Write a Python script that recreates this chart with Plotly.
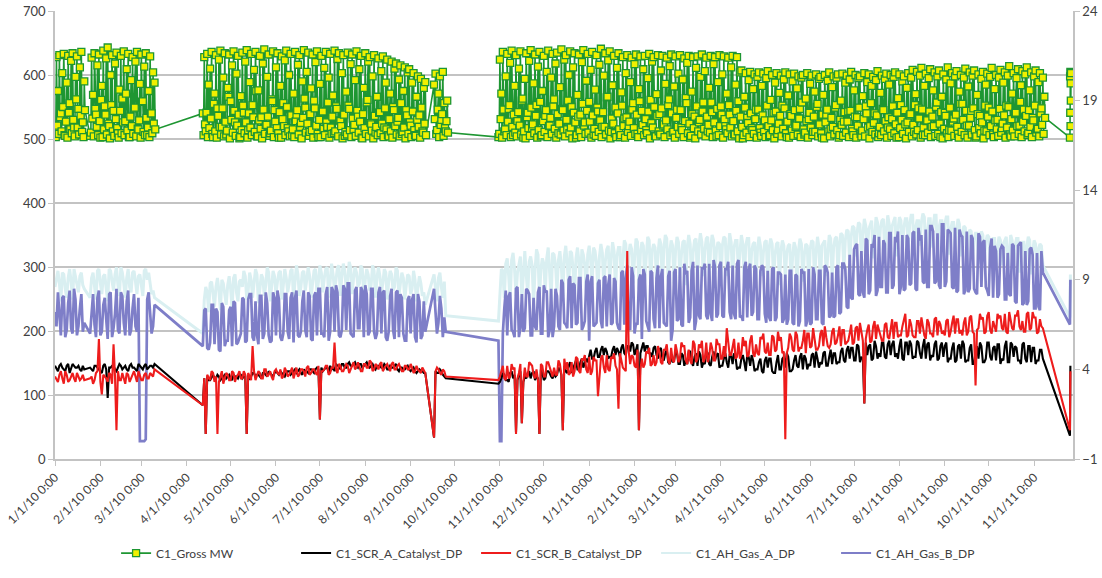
import plotly.graph_objects as go
from datetime import datetime, timedelta

BASE = datetime(2010, 1, 1)

# ---------------- x-axis ticks ----------------
TICK_DATES = ["2010-01-01", "2010-02-01", "2010-03-01", "2010-04-01", "2010-05-01", "2010-06-01",
              "2010-07-01", "2010-08-01", "2010-09-01", "2010-10-01", "2010-11-01", "2010-12-01",
              "2011-01-01", "2011-02-01", "2011-03-01", "2011-04-01", "2011-05-01", "2011-06-01",
              "2011-07-01", "2011-08-01", "2011-09-01", "2011-10-01", "2011-11-01"]
TICK_LABELS = ["1/1/10 0:00", "2/1/10 0:00", "3/1/10 0:00", "4/1/10 0:00", "5/1/10 0:00", "6/1/10 0:00",
               "7/1/10 0:00", "8/1/10 0:00", "9/1/10 0:00", "10/1/10 0:00", "11/1/10 0:00", "12/1/10 0:00",
               "1/1/11 0:00", "2/1/11 0:00", "3/1/11 0:00", "4/1/11 0:00", "5/1/11 0:00", "6/1/11 0:00",
               "7/1/11 0:00", "8/1/11 0:00", "9/1/11 0:00", "10/1/11 0:00", "11/1/11 0:00"]

# ---------------- data segments (start day offset from 1/1/10, sampling step in days) ----------------
EVEN_SEGMENTS = [("S1A", 0, 2), ("S1B", 24, 2), ("S2", 101, 2), ("S3", 259, 2), ("S4", 303, 2), ("END", 693.5, 0.3)]
ODD_SEGMENTS = [("S1A", 1, 2), ("S1B", 25, 2), ("S2", 102, 2), ("S3", 260, 2), ("S4", 304, 2)]
MW_DAY_SEGMENTS = [("S1A", 0, 1), ("S1B", 24, 1), ("S2", 101, 1), ("S3", 259, 1), ("S4", 303, 1), ("END", 693.5, 0.1)]
MW_NIGHT_SEGMENTS = [("S1A", 0.5, 1), ("S1B", 24.5, 1), ("S2", 101.5, 1), ("S3", 259.5, 1), ("S4", 303.5, 1)]

# ---------------- C1_Gross MW (left axis): daytime samples ----------------
MW_S1A = [512, 628, 575, 631, 540, 603, 633, 505, 588, 630, 556, 622, 634, 518, 597, 629, 547, 612, 636, 526, 590]
MW_S1B = [505, 627, 569, 634, 538, 615, 632, 502, 583, 638, 551, 626, 643, 520, 600, 631, 544, 618, 635, 509,
          577, 630, 563, 637, 528, 609, 633, 503, 592, 628, 548, 621, 636, 515, 586, 632, 559, 613, 634, 506,
          575, 629, 540, 604, 588]
MW_S2 = [540, 628, 512, 633, 585, 610, 636, 503, 571, 631, 548, 624, 638, 519, 596, 634, 507, 580, 632, 559,
         615, 637, 526, 602, 630, 501, 567, 635, 541, 621, 639, 514, 589, 633, 553, 608, 636, 504, 576, 630,
         534, 618, 640, 522, 597, 632, 509, 562, 637, 545, 612, 634, 502, 583, 629, 556, 623, 638, 517, 600,
         633, 506, 571, 636, 538, 616, 631, 525, 590, 639, 549, 605, 635, 511, 579, 632, 560, 620, 637, 503,
         586, 630, 543, 611, 636, 519, 596, 633, 508, 568, 638, 551, 625, 634, 528, 603, 631, 505, 574, 635,
         547, 617, 632, 515, 592, 637, 535, 609, 630, 501, 580, 634, 557, 621, 628, 523, 598, 631, 510, 566,
         626, 542, 606, 629, 518, 588, 624, 504, 571, 621, 550, 610, 618, 527, 593, 615, 508, 575, 612, 545,
         604, 609, 521, 588, 603, 506, 566, 598, 537, 594, 512, 580, 589]
MW_S3 = [585, 602, 514, 571, 598, 530, 605, 556, 512, 560]
MW_S4 = [503, 624, 571, 636, 512, 598, 633, 547, 619, 638, 506, 583, 631, 528, 610, 637, 560, 502, 594, 634,
         541, 622, 639, 517, 587, 632, 553, 613, 636, 504, 575, 630, 536, 605, 638, 521, 596, 633, 562, 618,
         635, 509, 581, 640, 545, 624, 631, 515, 600, 637, 550, 612, 634, 502, 569, 632, 538, 620, 639, 526,
         591, 633, 558, 608, 636, 507, 577, 631, 543, 616, 641, 519, 599, 634, 565, 623, 637, 511, 584, 630,
         549, 611, 634, 503, 573, 628, 532, 603, 631, 520, 589, 627, 556, 617, 632, 508, 578, 629, 544, 609,
         630, 514, 595, 633, 561, 621, 628, 505, 570, 631, 539, 607, 630, 523, 586, 627, 553, 614, 632, 510,
         582, 629, 546, 602, 631, 518, 593, 626, 564, 619, 630, 502, 574, 628, 535, 611, 629, 526, 597, 632,
         557, 606, 627, 512, 580, 630, 542, 617, 628, 504, 589, 631, 551, 601, 629, 520, 571, 627, 538, 612,
         630, 508, 585, 628, 559, 604, 607, 501, 566, 603, 533, 592, 605, 517, 578, 601, 546, 597, 604, 510,
         583, 602, 529, 595, 606, 505, 561, 600, 541, 588, 603, 514, 572, 599, 552, 593, 604, 503, 568, 601,
         536, 590, 602, 519, 579, 598, 547, 596, 600, 507, 563, 603, 531, 586, 599, 511, 574, 601, 555, 594,
         597, 502, 569, 600, 538, 591, 604, 516, 581, 598, 549, 596, 601, 506, 560, 602, 527, 588, 599, 543,
         593, 605, 512, 576, 600, 534, 595, 598, 504, 567, 603, 551, 589, 601, 520, 583, 597, 540, 592, 606,
         509, 572, 599, 545, 594, 602, 518, 585, 600, 531, 597, 604, 502, 564, 601, 553, 590, 598, 523, 580,
         603, 537, 596, 608, 511, 570, 605, 548, 599, 611, 506, 583, 602, 529, 595, 609, 519, 576, 604, 550,
         598, 607, 503, 566, 601, 541, 593, 612, 514, 587, 603, 532, 598, 606, 508, 574, 600, 555, 596, 610,
         521, 582, 604, 544, 599, 607, 502, 569, 601, 536, 594, 605, 513, 585, 602, 549, 597, 611, 507, 578,
         600, 530, 596, 608, 517, 588, 604, 552, 599, 614, 504, 571, 603, 539, 595, 609, 521, 584, 606, 546,
         601, 612, 509, 576, 604, 533, 598, 607, 515, 589, 603, 548, 596, 566]
MW_END = [502, 598, 541, 605, 520, 587, 560, 603]

# ---------------- C1_Gross MW (left axis): overnight samples ----------------
MWN_S1A = [503, 521, 508, 534, 512, 550, 506, 527, 502, 541, 515, 509, 530, 504, 562, 518, 507, 536, 511, 503, 545]
MWN_S1B = [510, 532, 504, 547, 519, 506, 528, 561, 503, 515, 538, 507, 524, 501, 553, 512, 505, 531, 517, 502,
           544, 509, 526, 506, 571, 513, 503, 535, 520, 508, 549, 504, 516, 529, 502, 558, 511, 506, 533, 518,
           503, 540, 509, 524, 515]
MWN_S2 = [506, 523, 541, 503, 517, 532, 508, 555, 512, 502, 536, 519, 507, 548, 504, 527, 513, 566, 501, 530,
          510, 544, 505, 521, 538, 503, 514, 552, 509, 526, 502, 540, 518, 506, 534, 511, 575, 504, 529, 516,
          501, 546, 508, 522, 535, 505, 513, 559, 503, 527, 517, 509, 542, 502, 531, 520, 506, 550, 512, 504,
          537, 515, 503, 528, 545, 507, 519, 501, 533, 563, 510, 524, 505, 539, 514, 502, 548, 521, 508, 530,
          503, 543, 516, 506, 526, 557, 502, 518, 535, 509, 512, 547, 504, 529, 520, 501, 538, 511, 507, 552,
          514, 503, 532, 522, 505, 544, 510, 527, 502, 539, 517, 508, 561, 504, 525, 513, 501, 536, 519, 506,
          541, 509, 524, 503, 548, 515, 506, 531, 512, 502, 545, 520, 507, 533, 504, 556, 511, 518, 501, 537,
          508, 526, 503, 543, 514, 505, 530, 519, 502, 549, 510, 524, 506]
MWN_S3 = [531, 508, 546, 503, 522, 539, 505, 517, 528, 510]
MWN_S4 = [508, 531, 502, 546, 515, 506, 527, 553, 503, 519, 538, 510, 504, 542, 521, 507, 563, 512, 501, 534,
          517, 505, 549, 523, 509, 536, 502, 514, 558, 506, 528, 511, 545, 503, 520, 533, 508, 551, 516, 502,
          539, 524, 507, 547, 513, 504, 530, 560, 509, 518, 501, 541, 526, 506, 535, 512, 503, 555, 521, 508,
          544, 510, 527, 502, 537, 516, 505, 549, 511, 529, 503, 542, 519, 507, 566, 513, 501, 532, 524, 509,
          503, 540, 515, 506, 552, 520, 502, 534, 511, 527, 505, 546, 517, 508, 538, 503, 559, 514, 522, 506,
          531, 509, 543, 501, 525, 518, 550, 504, 536, 512, 507, 548, 521, 503, 529, 515, 562, 506, 540, 511,
          502, 533, 519, 508, 545, 514, 503, 528, 556, 509, 524, 505, 539, 517, 501, 551, 512, 530, 507, 543,
          516, 504, 535, 522, 510, 557, 503, 526, 513, 547, 506, 520, 538, 502, 531, 515, 509, 553, 518, 504,
          528, 507, 544, 512, 501, 535, 519, 506, 549, 510, 525, 503, 540, 514, 508, 531, 502, 546, 517, 505,
          537, 511, 503, 552, 520, 506, 529, 514, 501, 543, 508, 524, 536, 504, 516, 548, 509, 527, 502, 539,
          513, 505, 545, 521, 507, 532, 503, 557, 515, 510, 528, 502, 541, 518, 506, 535, 511, 550, 504, 523,
          509, 538, 501, 526, 546, 512, 504, 533, 519, 507, 553, 514, 502, 530, 522, 505, 542, 510, 527, 503,
          544, 516, 506, 535, 502, 521, 549, 508, 513, 531, 504, 540, 518, 501, 556, 511, 525, 507, 537, 503,
          519, 506, 547, 512, 528, 502, 534, 515, 505, 551, 509, 523, 541, 503, 517, 530, 508, 545, 501, 526,
          511, 539, 504, 522, 553, 507, 514, 532, 502, 546, 518, 506, 528, 510, 543, 503, 535, 520, 505, 557,
          508, 524, 542, 501, 516, 536, 509, 503, 549, 513, 527, 505, 538, 519, 502, 555, 511, 530, 506, 544,
          502, 521, 533, 507, 548, 514, 504, 539, 517, 509, 526, 501, 552, 512, 535, 506, 520, 543, 503, 529,
          515, 505, 547, 510, 524, 537, 502, 518, 550, 507, 531, 513, 504, 541, 520, 508, 558, 503, 527, 512,
          536, 506, 545, 519, 503, 529, 552, 510, 516, 504, 540, 522, 508, 533]

# ---------------- C1_SCR_A_Catalyst_DP (right axis) ----------------
SCR_A_S1A = [4.2, 3.9, 4.3, 4.0, 4.2, 3.8, 4.3, 4.1, 4.2, 3.9, 4.0]
SCR_A_S1B = [4.1, 3.9, 4.2, 4.0, 3.8, 4.3, 2.4, 4.1, 4.2, 3.9, 4.3, 4.0, 4.2, 3.9, 4.3, 4.1, 3.9, 4.2, 4.0, 4.3,
             4.1, 4.2, 4.3]
SCR_A_S2 = [2.0, 0.4, 3.4, 3.6, 3.5, 3.7, 3.4, 3.6, 3.5, 3.7, 3.4, 3.6, 3.5, 3.7, 3.6, 0.4, 3.5, 3.8, 3.6, 3.7,
            3.5, 3.8, 3.6, 3.8, 3.6, 3.9, 3.7, 3.8, 3.6, 3.9, 3.7, 3.9, 3.8, 4.0, 3.7, 3.9, 3.8, 4.0, 3.8, 4.1,
            1.2, 3.9, 4.1, 3.8, 4.0, 3.9, 4.2, 4.0, 4.3, 4.1, 4.4, 4.2, 4.4, 4.1, 4.3, 4.2, 4.4, 4.1, 4.3, 4.0,
            4.2, 4.1, 4.3, 4.0, 4.2, 4.1, 4.3, 3.9, 4.1, 4.0, 4.2, 3.9, 4.1, 3.8, 4.0, 3.9, 3.8]
SCR_A_S3 = [0.2, 3.8, 4.0, 3.7, 3.5]
SCR_A_S4 = [3.2, 3.5, 3.7, 3.4, 3.8, 3.5, 0.5, 3.7, 1.0, 3.6, 3.8, 3.5, 3.9, 3.6, 0.4, 3.8, 3.5, 3.9, 3.6, 3.8,
            3.7, 4.0, 0.6, 3.9, 4.2, 3.8, 4.3, 4.0, 4.4, 4.1, 4.6, 4.8, 4.6, 5.0, 4.7, 5.1, 4.8, 5.0, 4.7, 5.1,
            4.8, 5.0, 5.2, 4.9, 5.3, 5.0, 5.4, 5.1, 0.6, 5.2, 5.0, 5.3, 4.9, 5.2, 4.8, 5.1, 4.6, 4.9, 4.4, 4.8,
            4.5, 4.9, 4.3, 4.8, 4.5, 5.0, 4.4, 4.7, 4.2, 4.8, 4.4, 4.9, 4.3, 4.7, 4.5, 4.9, 4.2, 4.6, 4.4, 4.8,
            4.3, 4.7, 4.1, 4.6, 4.4, 4.8, 4.2, 4.5, 4.0, 4.4, 3.9, 4.5, 4.1, 4.6, 3.8, 4.4, 4.0, 4.6, 4.1, 4.7,
            3.9, 4.5, 4.2, 4.7, 4.0, 4.6, 4.3, 4.8, 4.1, 4.6, 4.4, 4.9, 4.2, 4.7, 4.3, 4.9, 4.4, 5.0, 4.5, 5.1,
            4.6, 5.2, 4.5, 5.3, 4.7, 2.1, 4.8, 5.4, 4.6, 5.3, 4.9, 5.5, 4.7, 5.4, 4.8, 5.6, 4.9, 5.3, 4.6, 5.5,
            4.8, 5.4, 4.7, 5.6, 4.9, 5.3, 4.6, 5.5, 4.8, 5.4, 4.5, 5.3, 4.7, 5.5, 4.6, 5.2, 4.4, 5.3, 4.6, 5.4,
            4.5, 5.2, 4.3, 5.0, 4.6, 5.3, 4.4, 5.5, 4.7, 5.2, 4.5, 5.4, 4.6, 5.3, 4.4, 5.5, 4.7, 5.2, 4.5, 5.4,
            4.6, 5.3, 4.4, 5.2, 4.5, 5.1, 4.6]
SCR_A_END = [0.3, 4.2]
SCR_A_O_S1A = [4.0, 4.2, 4.1, 3.9, 4.3, 4.0, 4.2, 4.1, 4.0, 4.2]
SCR_A_O_S1B = [4.0, 4.2, 4.1, 3.9, 4.2, 4.0, 4.1, 4.2, 4.0, 4.1, 4.2, 4.1, 4.0, 4.2, 4.1, 4.0, 4.3, 4.1, 4.2, 4.0,
               4.2, 4.1]
SCR_A_O_S2 = [3.5, 3.6, 3.4, 3.7, 3.5, 3.6, 3.5, 3.7, 3.6, 3.5, 3.7, 3.6, 3.7, 3.5, 3.6, 3.7, 3.6, 3.8, 3.7, 3.6,
              3.8, 3.7, 3.9, 3.7, 3.8, 3.8, 3.9, 3.7, 3.8, 3.9, 3.8, 4.0, 3.9, 3.8, 4.0, 3.9, 4.0, 3.9, 4.0, 4.0,
              4.1, 4.0, 4.1, 4.2, 4.1, 4.3, 4.2, 4.3, 4.1, 4.3, 4.2, 4.3, 4.2, 4.3, 4.1, 4.3, 4.2, 4.2, 4.1, 4.2,
              4.2, 4.1, 4.2, 4.0, 4.1, 4.2, 4.0, 4.1, 4.0, 4.1, 4.0, 4.0, 3.9, 3.9, 3.9, 3.8]
SCR_A_O_S3 = [3.9, 3.8, 3.9, 3.6]
SCR_A_O_S4 = [3.3, 3.8, 3.4, 3.3, 3.9, 3.7, 3.4, 3.9, 3.3, 3.5, 3.9, 3.8, 3.4, 3.5, 4.0, 3.4, 3.9, 3.8, 3.5, 3.6,
              4.1, 3.7, 4.2, 3.8, 4.4, 4.0, 4.5, 4.0, 4.6, 4.3, 4.4, 5.1, 4.6, 5.2, 4.7, 5.3, 5.2, 4.6, 4.7, 5.3,
              5.2, 4.7, 5.4, 4.8, 5.3, 5.5, 4.8, 5.4, 4.9, 5.5, 5.3, 4.9, 4.7, 5.3, 4.6, 5.2, 4.5, 5.1, 4.3, 4.4,
              5.0, 4.3, 4.9, 4.2, 4.3, 5.0, 4.2, 4.9, 5.0, 4.1, 4.3, 4.9, 4.2, 5.0, 4.8, 4.1, 4.2, 4.9, 4.1, 4.8,
              4.9, 4.0, 4.1, 4.8, 3.9, 4.7, 4.8, 3.9, 4.0, 4.6, 3.8, 4.7, 4.6, 3.9, 3.8, 4.8, 4.0, 4.7, 4.9, 3.9,
              4.0, 4.8, 4.1, 4.9, 4.8, 4.0, 4.2, 4.9, 5.0, 4.1, 4.3, 5.0, 4.2, 5.1, 4.9, 4.3, 4.4, 5.2, 4.4, 5.3,
              5.2, 4.5, 5.4, 4.4, 4.6, 5.5, 5.3, 4.5, 5.6, 4.6, 4.7, 5.5, 4.6, 5.6, 5.4, 4.7, 4.6, 5.7, 4.5, 5.5,
              5.6, 4.6, 4.7, 5.5, 4.6, 5.7, 5.4, 4.5, 4.7, 5.6, 4.6, 5.5, 5.3, 4.4, 4.6, 5.5, 4.5, 5.4, 5.6, 4.4,
              4.5, 5.4, 4.3, 5.3, 5.5, 4.4, 4.6, 5.5, 4.5, 5.3, 5.4, 4.3, 4.5, 5.6, 4.4, 5.4, 5.3, 4.5, 4.3, 5.5,
              4.4, 5.3, 5.2, 4.3, 4.5, 5.1]

# ---------------- C1_SCR_B_Catalyst_DP (right axis) ----------------
SCR_B_S1A = [3.6, 3.3, 3.9, 3.2, 3.7, 3.4, 3.8, 3.3, 3.6, 3.5, 3.4]
SCR_B_S1B = [3.5, 3.2, 3.8, 5.7, 2.6, 3.6, 3.3, 3.7, 5.4, 0.6, 3.4, 3.8, 3.2, 3.7, 3.5, 3.9, 3.3, 3.6, 3.4, 3.8,
             3.5, 3.7, 4.0]
SCR_B_S2 = [2.0, 0.4, 3.5, 3.9, 3.3, 0.4, 3.6, 3.2, 3.8, 3.4, 3.9, 3.3, 3.7, 3.5, 3.9, 0.4, 3.6, 5.3, 3.4, 3.9,
            3.5, 4.0, 3.6, 3.9, 3.4, 4.0, 3.7, 3.5, 4.1, 3.6, 3.9, 3.5, 4.1, 3.7, 4.0, 3.6, 4.2, 3.8, 4.0, 3.7,
            1.2, 3.9, 4.2, 3.7, 4.1, 5.5, 3.8, 4.2, 3.9, 4.3, 3.8, 4.2, 4.0, 4.4, 3.9, 4.3, 4.1, 4.5, 3.9, 4.3,
            4.0, 4.4, 4.1, 4.3, 3.9, 4.4, 4.0, 4.3, 3.9, 4.2, 4.0, 4.3, 3.8, 4.2, 3.9, 4.1, 3.8]
SCR_B_S3 = [0.2, 4.1, 3.8, 4.0, 3.6]
SCR_B_S4 = [3.4, 3.9, 3.5, 4.2, 3.6, 4.0, 0.4, 3.8, 1.0, 4.1, 3.6, 4.3, 3.7, 4.0, 0.4, 4.2, 3.6, 4.4, 3.8, 4.1,
            3.7, 4.3, 0.6, 4.0, 3.7, 4.4, 3.9, 4.6, 3.8, 4.5, 4.0, 4.7, 3.9, 4.5, 2.5, 4.6, 4.1, 4.8, 3.9, 4.6,
            4.2, 1.8, 4.5, 4.0, 10.6, 4.3, 4.7, 4.1, 0.6, 4.6, 4.3, 4.9, 4.2, 4.8, 4.4, 5.0, 4.3, 5.1, 4.5, 5.2,
            4.4, 5.0, 4.6, 5.3, 4.5, 5.1, 4.3, 5.4, 4.6, 5.2, 4.4, 5.5, 4.7, 5.2, 4.5, 5.4, 4.6, 5.3, 6.3, 4.8,
            5.4, 4.6, 5.5, 4.9, 5.3, 4.7, 5.6, 4.9, 5.4, 4.8, 5.7, 5.0, 5.5, 4.8, 5.8, 5.1, 5.6, 4.9, 0.1, 5.2,
            5.8, 5.0, 5.9, 5.2, 5.6, 4.9, 6.0, 5.3, 5.7, 5.1, 6.0, 5.3, 5.8, 5.2, 6.1, 5.4, 5.9, 5.3, 6.2, 5.5,
            6.0, 5.4, 6.3, 5.6, 6.1, 2.1, 6.2, 5.5, 6.4, 5.7, 6.2, 5.6, 6.5, 5.8, 6.3, 5.7, 6.6, 5.9, 6.4, 7.1,
            5.9, 6.5, 5.8, 6.7, 6.0, 6.4, 5.7, 6.6, 6.0, 6.8, 5.9, 6.5, 6.1, 6.7, 5.8, 6.6, 6.0, 6.8, 6.2, 6.6,
            5.9, 6.9, 6.1, 3.1, 6.3, 6.8, 6.0, 7.0, 6.2, 6.7, 6.1, 6.9, 6.3, 7.1, 6.0, 6.8, 6.2, 7.0, 6.4, 6.7,
            6.1, 7.2, 6.3, 6.9, 6.0, 6.8, 6.3]
SCR_B_END = [0.6, 3.9]
SCR_B_O_S1A = [3.4, 3.7, 3.5, 3.9, 3.3, 3.6, 3.5, 3.8, 3.4, 3.7]
SCR_B_O_S1B = [3.6, 3.4, 3.9, 3.3, 3.7, 3.5, 3.8, 3.2, 3.6, 3.9, 3.4, 3.5, 3.8, 3.3, 3.7, 3.6, 3.9, 3.4, 3.7, 3.5,
               3.8, 3.6]
SCR_B_O_S2 = [3.5, 3.7, 3.4, 3.8, 3.6, 3.3, 3.9, 3.5, 3.7, 3.4, 3.8, 3.6, 3.9, 3.5, 3.7, 3.8, 3.4, 3.9, 3.6, 3.8,
              3.5, 4.0, 3.7, 3.6, 3.9, 3.8, 4.0, 3.6, 3.9, 3.7, 4.1, 3.8, 3.6, 4.0, 3.9, 4.1, 3.7, 4.0, 3.8, 4.2,
              3.9, 4.0, 4.2, 3.8, 4.1, 4.0, 4.3, 3.9, 4.1, 4.2, 4.0, 4.4, 4.1, 4.2, 3.9, 4.3, 4.1, 4.4, 4.0, 4.2,
              4.3, 3.9, 4.2, 4.1, 4.3, 4.0, 4.2, 4.1, 3.9, 4.2, 4.0, 4.1, 3.9, 4.0, 3.8, 3.9]
SCR_B_O_S3 = [3.9, 4.0, 3.7, 3.9]
SCR_B_O_S4 = [3.6, 4.2, 3.4, 3.5, 4.3, 4.1, 3.5, 4.3, 3.3, 3.6, 4.4, 4.2, 3.5, 3.4, 4.3, 3.6, 4.4, 4.1, 3.6, 3.7,
              4.5, 3.7, 4.6, 4.4, 3.8, 3.6, 4.7, 3.9, 4.6, 4.8, 3.8, 3.7, 4.7, 4.5, 3.9, 4.8, 3.8, 4.0, 4.7, 4.9,
              4.0, 4.9, 4.1, 3.9, 5.0, 4.8, 4.2, 5.1, 4.0, 4.1, 5.0, 5.2, 4.3, 4.2, 5.3, 4.4, 5.1, 5.4, 4.3, 4.5,
              5.4, 4.4, 5.5, 5.3, 4.3, 4.5, 5.6, 4.4, 5.4, 5.6, 4.6, 4.4, 5.5, 4.5, 5.7, 5.4, 4.6, 4.7, 5.6, 4.8,
              5.7, 4.7, 4.6, 5.8, 5.6, 4.8, 5.9, 4.7, 4.9, 5.8, 6.0, 4.9, 4.8, 5.9, 5.0, 6.1, 5.8, 5.0, 4.9, 6.0,
              5.1, 6.1, 5.0, 5.2, 6.2, 6.0, 5.2, 6.3, 5.1, 5.3, 6.2, 6.4, 5.3, 5.4, 6.3, 5.5, 6.4, 6.2, 5.4, 5.6,
              6.5, 5.5, 6.4, 6.6, 5.6, 5.7, 6.5, 5.6, 6.7, 6.5, 5.8, 5.6, 6.6, 5.7, 6.8, 6.6, 5.8, 5.9, 6.7, 5.8,
              6.8, 5.9, 5.8, 6.7, 6.9, 5.9, 6.8, 6.0, 5.8, 6.9, 6.7, 6.0, 5.9, 6.8, 6.1, 7.0, 6.8, 6.0, 5.9, 6.9,
              6.1, 7.0, 6.0, 6.2, 7.1, 6.9, 6.1, 7.2, 6.0, 6.3, 7.1, 7.0, 6.2, 6.1, 7.2, 6.3, 7.0, 7.3, 6.2, 6.1,
              7.1, 6.2, 7.2, 6.9, 6.1, 6.4]

# ---------------- C1_AH_Gas_A_DP (right axis) ----------------
AH_A_S1A = [8.6, 9.5, 7.8, 9.3, 8.0, 9.6, 7.9, 9.2, 8.3, 9.4, 8.5]
AH_A_S1B = [8.0, 9.4, 7.9, 9.6, 8.2, 9.3, 7.8, 9.5, 8.4, 9.7, 8.1, 9.4, 8.0, 9.6, 8.3, 9.5, 8.2, 9.3, 8.1, 9.6,
            9.4, 8.2, 8.0]
AH_A_S2 = [6.0, 8.6, 7.2, 8.9, 7.5, 9.1, 7.3, 8.8, 7.6, 9.2, 7.4, 9.3, 7.8, 9.0, 9.5, 7.9, 9.4, 8.0, 9.6, 7.7,
           9.3, 8.1, 9.7, 7.8, 9.5, 8.2, 9.4, 7.9, 9.6, 8.3, 9.5, 7.9, 9.8, 8.1, 9.4, 8.4, 9.7, 8.0, 9.5, 8.2,
           9.8, 8.3, 9.6, 8.0, 9.9, 8.4, 9.7, 8.1, 9.9, 8.5, 10.0, 8.2, 9.7, 8.6, 9.8, 8.1, 9.6, 8.4, 9.8, 8.0,
           9.7, 8.3, 9.6, 7.9, 9.5, 8.4, 9.7, 8.1, 9.4, 7.9, 9.3, 8.2, 9.5, 7.8, 9.2, 8.1, 7.6]
AH_A_S3 = [9.3, 7.8, 9.4, 8.0, 7.0]
AH_A_S4 = [6.7, 9.6, 8.0, 10.2, 7.8, 10.5, 8.1, 10.0, 7.9, 10.6, 8.2, 10.3, 7.7, 10.7, 8.0, 10.2, 8.3, 10.8, 7.9, 10.4,
           8.4, 10.6, 8.1, 10.9, 8.5, 10.5, 8.2, 10.8, 8.6, 10.4, 8.3, 10.9, 8.7, 10.6, 8.4, 11.0, 8.5, 10.7, 8.8, 11.1,
           8.4, 10.8, 8.9, 11.2, 8.6, 11.0, 8.8, 11.3, 8.5, 11.1, 8.9, 11.4, 8.7, 11.0, 9.0, 11.3, 8.6, 11.5, 8.9, 11.2,
           8.8, 11.4, 9.1, 11.1, 8.7, 11.5, 9.0, 11.2, 8.8, 11.6, 9.2, 11.3, 9.0, 11.5, 9.3, 11.1, 8.9, 11.4, 9.2, 11.6,
           9.0, 11.2, 9.3, 11.5, 8.9, 11.3, 9.1, 11.0, 8.8, 11.4, 9.2, 11.1, 8.9, 11.3, 9.0, 11.0, 8.7, 11.2, 9.1, 10.9,
           8.8, 11.1, 8.6, 11.3, 8.9, 11.0, 8.7, 11.2, 9.0, 11.4, 8.8, 11.1, 9.2, 11.5, 9.0, 11.3, 9.4, 11.6, 9.6, 11.8,
           10.0, 12.0, 10.3, 12.2, 10.1, 12.4, 10.5, 12.1, 10.2, 12.5, 10.6, 12.3, 10.4, 12.6, 10.7, 12.2, 10.3, 12.5,
           10.6, 12.4, 10.8, 12.6, 10.5, 12.3, 10.9, 12.7, 10.6, 12.4, 10.8, 12.6, 10.5, 12.3, 10.9, 12.5, 10.4, 12.2,
           10.7, 12.4, 10.3, 12.0, 10.1, 11.8, 10.2, 11.6, 9.9, 11.7, 10.0, 11.5, 9.7, 11.3, 9.6, 11.4, 9.8, 11.2,
           9.5, 11.5, 9.7, 11.3, 9.4, 11.1, 9.6, 11.4, 9.3, 11.2, 9.5, 11.0, 9.8]
AH_A_END = [6.9, 9.3]
AH_A_O_S1A = [9.0, 8.8, 9.4, 8.5, 9.1, 8.9, 9.6, 8.6, 9.2, 8.7]
AH_A_O_S1B = [9.1, 8.6, 9.5, 8.8, 9.2, 8.5, 9.6, 8.9, 9.3, 8.7, 9.7, 8.8, 9.1, 8.6, 9.4, 8.9, 9.2, 8.7, 9.5, 9.0,
              8.8, 8.4]
AH_A_O_S2 = [7.9, 8.3, 8.8, 8.0, 8.6, 8.4, 9.0, 8.2, 8.7, 8.5, 9.1, 8.3, 8.9, 8.6, 9.2, 8.4, 9.0, 8.8, 9.3, 8.5,
             9.1, 8.7, 9.4, 8.6, 9.2, 8.9, 9.5, 8.7, 9.1, 8.8, 9.6, 8.9, 9.3, 8.6, 9.5, 9.0, 9.2, 8.8, 9.6, 8.9,
             9.4, 9.1, 9.7, 8.9, 9.3, 9.0, 9.8, 9.2, 9.5, 8.9, 9.7, 9.1, 9.4, 8.8, 9.6, 9.0, 9.3, 8.7, 9.5, 9.1,
             9.2, 8.8, 9.4, 8.9, 9.3, 8.6, 9.5, 8.8, 9.1, 8.7, 9.2, 8.5, 9.0, 8.6, 8.8, 8.3]
AH_A_O_S3 = [8.7, 9.1, 8.6, 8.9]
AH_A_O_S4 = [8.2, 9.5, 9.9, 9.2, 10.1, 9.6, 9.4, 10.3, 9.7, 9.3, 10.0, 9.8, 9.5, 10.4, 9.6, 9.9, 10.2, 9.4, 10.5, 9.8,
             10.1, 9.7, 10.3, 9.9, 10.6, 9.6, 10.2, 10.0, 10.7, 9.8, 10.4, 10.1, 10.8, 9.9, 10.3, 10.5, 10.0, 10.9, 10.2, 10.6,
             10.3, 10.8, 10.1, 11.0, 10.4, 10.7, 10.2, 11.1, 10.5, 10.9, 10.3, 11.2, 10.6, 10.8, 10.4, 11.0, 10.7, 11.3, 10.5, 10.9,
             10.6, 11.1, 10.4, 11.2, 10.8, 11.0, 10.5, 11.3, 10.9, 11.1, 10.6, 11.4, 10.8, 11.2, 10.7, 11.0, 10.9, 11.3, 10.6, 11.1,
             10.8, 11.2, 10.5, 11.0, 10.9, 11.3, 10.6, 11.1, 10.7, 10.9, 10.5, 11.2, 10.8, 11.0, 10.4, 11.1, 10.6, 10.9, 10.5, 11.0,
             10.3, 10.8, 10.6, 11.0, 10.4, 10.9, 10.7, 11.1, 10.5, 10.8, 10.9, 11.2, 10.6, 11.3, 10.8, 11.4, 11.0, 11.5, 11.2, 11.7,
             11.4, 11.9, 11.6, 12.1, 11.5, 12.0, 11.8, 12.3, 11.6, 12.2, 11.9, 12.4, 11.7, 12.1, 12.0, 12.5, 11.8, 12.3, 11.9, 12.4,
             12.1, 12.6, 11.9, 12.3, 12.2, 12.5, 11.8, 12.4, 12.0, 12.6, 11.9, 12.3, 12.1, 12.5, 11.8, 12.2, 11.7, 12.1, 11.5, 11.9,
             11.3, 11.7, 11.2, 11.6, 11.0, 11.5, 11.1, 11.4, 10.9, 11.3, 10.8, 11.2, 11.0, 11.4, 10.7, 11.2, 10.9, 11.3, 10.6, 11.1,
             10.8, 11.2, 10.5, 11.0, 10.7, 10.9]

# ---------------- C1_AH_Gas_B_DP (right axis) ----------------
AH_B_S1A = [7.2, 8.3, 5.9, 8.1, 6.2, 8.4, 6.0, 7.9, 6.4, 8.2, 6.6]
AH_B_S1B = [6.0, 8.2, 5.8, 8.4, 6.1, 8.0, 5.7, 8.3, 6.3, 8.5, 6.0, 8.1, 5.9, 8.4, 6.2, 8.2, 6.1, 0.0, 0.0, 0.1,
            8.3, 6.0, 7.6]
AH_B_S2 = [5.3, 7.4, 5.1, 7.6, 5.4, 7.2, 5.0, 7.5, 5.6, 7.3, 5.3, 7.7, 5.5, 6.0, 7.9, 5.6, 8.2, 5.8, 7.8, 5.4,
           8.1, 6.0, 7.7, 5.5, 8.3, 5.9, 7.9, 5.6, 8.2, 6.1, 8.0, 5.5, 8.4, 5.8, 7.8, 6.2, 8.3, 5.7, 8.1, 5.9,
           8.5, 6.0, 8.2, 5.6, 8.6, 6.1, 8.3, 5.8, 8.7, 6.2, 8.8, 5.9, 8.4, 6.3, 8.6, 5.8, 8.2, 6.1, 8.5, 5.7,
           8.3, 6.0, 8.4, 5.6, 8.1, 6.2, 8.3, 5.8, 8.0, 5.6, 7.9, 6.0, 8.2, 5.5, 7.8, 5.9, 6.1]
AH_B_S3 = [8.5, 6.0, 8.1, 5.8, 6.1]
AH_B_S4 = [5.6, 0.0, 7.4, 5.9, 8.3, 6.1, 8.5, 5.8, 8.2, 6.3, 8.4, 5.9, 8.0, 6.2, 8.6, 6.0, 8.3, 5.8, 8.5, 6.4,
           8.1, 6.2, 8.8, 6.5, 9.0, 6.3, 8.7, 6.6, 9.1, 6.4, 8.9, 5.6, 9.2, 6.5, 8.8, 6.7, 9.1, 6.4, 9.3, 6.6,
           8.9, 6.3, 9.4, 6.5, 9.8, 6.2, 9.2, 6.6, 9.0, 5.7, 9.3, 6.4, 9.5, 6.8, 9.1, 6.3, 9.6, 6.5, 9.2, 5.6,
           9.4, 6.7, 9.7, 6.4, 9.3, 6.6, 9.5, 6.2, 9.8, 6.8, 9.6, 7.0, 9.9, 6.7, 9.7, 7.1, 10.0, 6.9, 9.6, 7.2,
           9.8, 6.8, 10.1, 7.0, 9.7, 6.9, 9.9, 7.2, 9.6, 6.8, 9.8, 7.1, 9.5, 6.7, 9.7, 6.9, 9.4, 6.6, 9.3, 6.8,
           9.5, 6.5, 9.2, 6.7, 9.4, 6.4, 9.6, 6.6, 9.3, 6.8, 9.5, 6.5, 9.7, 6.9, 9.4, 7.0, 9.8, 7.2, 9.9, 7.5,
           10.4, 7.9, 10.9, 8.2, 10.6, 8.0, 11.2, 8.4, 10.8, 8.1, 11.4, 8.6, 11.0, 8.3, 11.6, 8.7, 11.1, 8.2, 11.5, 8.5,
           11.3, 8.8, 11.7, 8.4, 11.2, 8.9, 11.8, 8.6, 12.0, 8.8, 11.6, 8.5, 12.1, 8.9, 11.7, 8.6, 11.9, 8.4, 11.5, 8.2,
           11.7, 8.5, 11.3, 8.3, 11.6, 8.6, 11.2, 8.4, 10.8, 8.0, 10.6, 8.2, 10.9, 7.9, 10.5, 8.1, 10.9, 7.7, 11.0, 7.6,
           10.6, 7.8, 10.8, 7.4, 10.5, 7.3, 9.4]
AH_B_END = [6.5, 9.0]
AH_B_O_S1A = [6.4, 7.0, 8.0, 5.8, 7.7, 6.3, 8.5, 5.9, 7.4, 6.1]
AH_B_O_S1B = [7.3, 6.5, 8.0, 5.9, 7.6, 6.8, 8.2, 5.8, 7.1, 6.2, 8.3, 6.6, 7.8, 5.9, 7.4, 6.4, 8.0, 0.0, 0.0, 7.9,
              7.0, 6.4]
AH_B_O_S2 = [7.3, 5.2, 5.5, 7.6, 7.4, 5.1, 7.7, 5.3, 5.6, 7.5, 7.8, 5.4, 5.7, 8.0, 5.5, 7.9, 8.2, 5.6, 5.9, 8.1,
             5.7, 8.3, 5.9, 5.6, 8.0, 8.4, 5.8, 6.0, 8.2, 5.7, 8.3, 8.0, 5.9, 6.1, 8.4, 5.8, 8.1, 5.6, 8.3, 8.5,
             6.0, 5.8, 8.6, 6.1, 8.4, 8.7, 5.9, 6.2, 8.5, 8.8, 6.0, 5.8, 8.6, 6.3, 8.4, 8.7, 5.9, 8.5, 6.1, 6.0,
             8.6, 8.3, 5.8, 6.1, 8.5, 5.7, 8.4, 8.2, 6.0, 5.6, 8.1, 7.9, 5.8, 8.2, 5.7, 7.8]
AH_B_O_S3 = [7.2, 6.6, 7.4, 6.9]
AH_B_O_S4 = [0.0, 6.0, 8.4, 8.1, 6.2, 5.8, 8.6, 6.3, 6.1, 8.5, 8.2, 5.9, 6.4, 8.3, 6.0, 8.7, 8.4, 6.2, 5.8, 8.5,
             6.4, 9.0, 6.6, 6.3, 9.2, 8.8, 6.5, 9.1, 6.2, 6.7, 9.3, 8.9, 6.4, 6.6, 9.0, 6.3, 9.2, 8.7, 6.5, 9.1,
             6.6, 6.2, 9.5, 9.1, 6.4, 9.7, 6.0, 6.5, 9.3, 9.6, 6.7, 6.1, 9.4, 6.3, 9.8, 9.2, 6.6, 6.4, 9.5, 6.2,
             9.6, 6.8, 6.5, 9.9, 9.5, 6.9, 10.0, 6.7, 7.0, 9.7, 9.9, 6.8, 7.1, 10.1, 6.9, 9.8, 7.0, 9.6, 10.0, 6.8,
             7.1, 9.9, 6.9, 6.7, 10.0, 9.6, 7.0, 9.8, 6.8, 9.5, 9.7, 6.6, 6.9, 9.6, 6.7, 9.4, 9.3, 6.8, 6.5, 9.5,
             6.6, 9.3, 6.4, 9.6, 9.4, 6.7, 6.5, 9.7, 6.8, 9.5, 6.6, 9.8, 9.4, 7.0, 6.9, 9.7, 7.1, 9.9, 9.6, 7.4,
             8.0, 10.7, 11.0, 8.1, 8.3, 11.3, 8.2, 11.0, 11.5, 8.4, 8.6, 11.2, 8.3, 11.6, 8.5, 11.4, 11.7, 8.6, 8.4, 11.5,
             8.7, 11.6, 8.5, 11.9, 11.5, 8.8, 8.6, 12.0, 11.7, 8.9, 8.7, 12.1, 8.6, 11.8, 11.6, 8.5, 8.3, 11.8, 11.4, 8.4,
             8.3, 11.5, 8.5, 8.2, 11.4, 11.1, 8.6, 8.1, 11.3, 10.9, 8.0, 10.7, 10.8, 7.9, 8.2, 11.0, 7.8, 10.9, 11.1, 7.7,
             7.6, 10.7, 10.4, 7.4, 7.5, 10.6]


def build(segments, arrays):
    pts = []
    for (name, start, step), vals in zip(segments, arrays):
        for i, v in enumerate(vals):
            pts.append((BASE + timedelta(days=start + step * i), v))
    return pts


def merged(seg_a, arr_a, seg_b, arr_b):
    pts = build(seg_a, arr_a) + build(seg_b, arr_b)
    pts.sort(key=lambda p: p[0])
    return [p[0] for p in pts], [p[1] for p in pts]


mw_x, mw_y = merged(MW_DAY_SEGMENTS, [MW_S1A, MW_S1B, MW_S2, MW_S3, MW_S4, MW_END],
                    MW_NIGHT_SEGMENTS, [MWN_S1A, MWN_S1B, MWN_S2, MWN_S3, MWN_S4])
a_x, a_y = merged(EVEN_SEGMENTS, [SCR_A_S1A, SCR_A_S1B, SCR_A_S2, SCR_A_S3, SCR_A_S4, SCR_A_END],
                  ODD_SEGMENTS, [SCR_A_O_S1A, SCR_A_O_S1B, SCR_A_O_S2, SCR_A_O_S3, SCR_A_O_S4])
b_x, b_y = merged(EVEN_SEGMENTS, [SCR_B_S1A, SCR_B_S1B, SCR_B_S2, SCR_B_S3, SCR_B_S4, SCR_B_END],
                  ODD_SEGMENTS, [SCR_B_O_S1A, SCR_B_O_S1B, SCR_B_O_S2, SCR_B_O_S3, SCR_B_O_S4])
ha_x, ha_y = merged(EVEN_SEGMENTS, [AH_A_S1A, AH_A_S1B, AH_A_S2, AH_A_S3, AH_A_S4, AH_A_END],
                    ODD_SEGMENTS, [AH_A_O_S1A, AH_A_O_S1B, AH_A_O_S2, AH_A_O_S3, AH_A_O_S4])
hb_x, hb_y = merged(EVEN_SEGMENTS, [AH_B_S1A, AH_B_S1B, AH_B_S2, AH_B_S3, AH_B_S4, AH_B_END],
                    ODD_SEGMENTS, [AH_B_O_S1A, AH_B_O_S1B, AH_B_O_S2, AH_B_O_S3, AH_B_O_S4])

FONT = "Lato, 'Open Sans', Arial, sans-serif"
TXT = "#404040"
GRID = "#c3c3c3"
C_MW_LINE = "#1e9632"
C_MW_FILL = "#f0f000"
C_A = "#000000"
C_B = "#ee1c1c"
C_AHA = "#d9eff1"
C_AHB = "#7e7ec8"

fig = go.Figure()
fig.add_trace(go.Scatter(
    x=mw_x, y=mw_y, name="C1_Gross MW", mode="lines+markers", yaxis="y",
    line=dict(color=C_MW_LINE, width=1.6),
    marker=dict(symbol="square", size=7, color=C_MW_FILL, line=dict(color=C_MW_LINE, width=1.3)),
    legendrank=1))
fig.add_trace(go.Scatter(x=ha_x, y=ha_y, name="C1_AH_Gas_A_DP", mode="lines", yaxis="y2",
                         line=dict(color=C_AHA, width=3.0), showlegend=False))
fig.add_trace(go.Scatter(x=hb_x, y=hb_y, name="C1_AH_Gas_B_DP", mode="lines", yaxis="y2",
                         line=dict(color=C_AHB, width=2.7), showlegend=False))
fig.add_trace(go.Scatter(x=a_x, y=a_y, name="C1_SCR_A_Catalyst_DP", mode="lines", yaxis="y2",
                         line=dict(color=C_A, width=2.1), showlegend=False))
fig.add_trace(go.Scatter(x=b_x, y=b_y, name="C1_SCR_B_Catalyst_DP", mode="lines", yaxis="y2",
                         line=dict(color=C_B, width=2.1), showlegend=False))

# legend entries with thin line samples
for name, col, rank in [("C1_SCR_A_Catalyst_DP", C_A, 2), ("C1_SCR_B_Catalyst_DP", C_B, 3),
                        ("C1_AH_Gas_A_DP", C_AHA, 4), ("C1_AH_Gas_B_DP", C_AHB, 5)]:
    fig.add_trace(go.Scatter(x=[None], y=[None], name=name, mode="lines", yaxis="y2",
                             line=dict(color=col, width=2), legendrank=rank, hoverinfo="skip"))

fig.update_layout(
    width=1102, height=578,
    margin=dict(l=55, r=29, t=11, b=116),
    paper_bgcolor="white", plot_bgcolor="white",
    font=dict(family=FONT, size=12, color=TXT),
    showlegend=True,
    legend=dict(orientation="h", x=0.06, xanchor="left", y=-0.21, yanchor="middle",
                font=dict(family=FONT, size=12, color=TXT), entrywidth=135, entrywidthmode="pixels",
                bgcolor="rgba(0,0,0,0)"),
    xaxis=dict(type="date", range=["2010-01-01", "2011-11-27 14:00"], automargin=False,
               tickvals=TICK_DATES, ticktext=TICK_LABELS, tickangle=-45,
               tickfont=dict(family=FONT, size=12, color=TXT),
               ticks="outside", ticklen=5, tickcolor=GRID, showgrid=False,
               showline=True, linecolor=GRID, linewidth=1.5, zeroline=False),
    yaxis=dict(range=[0, 700], tickvals=[0, 100, 200, 300, 400, 500, 600, 700], automargin=False,
               tickfont=dict(family=FONT, size=13, color=TXT),
               showgrid=True, gridcolor=GRID, gridwidth=1.5, zeroline=False,
               showline=True, linecolor=GRID, linewidth=1.5, ticks="outside", ticklen=5, tickcolor=GRID),
    yaxis2=dict(range=[-1, 24], tickvals=[-1, 4, 9, 14, 19, 24], overlaying="y", side="right", automargin=False,
                tickfont=dict(family=FONT, size=13, color=TXT),
                showgrid=False, zeroline=False, showline=True, linecolor=GRID, linewidth=1.5,
                ticks="outside", ticklen=5, tickcolor=GRID),
)

fig.write_html("out.html")
